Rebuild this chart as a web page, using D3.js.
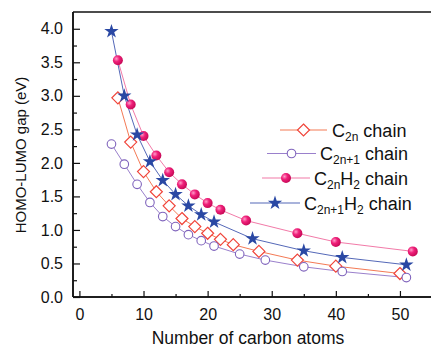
<!DOCTYPE html>
<html><head><meta charset="utf-8">
<script src="https://cdn.jsdelivr.net/npm/d3@7"></script>
<style>body{margin:0;background:#fff}svg{display:block;font-family:"Liberation Sans",Arial,sans-serif}</style>
</head><body>
<svg id="c" width="431" height="349"></svg>
<script>
// ---- data ----
const c2nX = [6, 8, 10, 12, 14, 16, 18, 20, 22, 24, 28, 34, 40, 50];
const c2nY = [2.97, 2.31, 1.87, 1.57, 1.36, 1.17, 1.05, 0.95, 0.86, 0.78, 0.68, 0.55, 0.46, 0.35];
const c2n1X = [5, 7, 9, 11, 13, 15, 17, 19, 21, 25, 29, 35, 41, 51];
const c2n1Y = [2.28, 1.98, 1.68, 1.41, 1.20, 1.05, 0.93, 0.84, 0.76, 0.64, 0.55, 0.45, 0.38, 0.29];
const c2nh2X = [6, 8, 10, 12, 14, 16, 18, 20, 22, 26, 34, 40, 52];
const c2nh2Y = [3.53, 2.87, 2.40, 2.11, 1.86, 1.68, 1.53, 1.40, 1.30, 1.14, 0.95, 0.82, 0.68];
const c2n1h2X = [5, 7, 9, 11, 13, 15, 17, 19, 21, 27, 35, 41, 51];
const c2n1h2Y = [3.96, 3.00, 2.42, 2.02, 1.74, 1.53, 1.36, 1.23, 1.12, 0.87, 0.69, 0.59, 0.48];
const xTicks = [0, 10, 20, 30, 40, 50];
const yTicks = [0, 0.5, 1, 1.5, 2, 2.5, 3, 3.5, 4];
const xTitle = "Number of carbon atoms";
const yTitle = "HOMO-LUMO gap (eV)";

const svg = d3.select("#c");
const x = d3.scaleLinear().domain([-1, 55]).range([73, 432]);
const y = d3.scaleLinear().domain([0, 4.25]).range([297, 12]);

const defs = svg.append("defs");
const grad = defs.append("radialGradient").attr("id", "ball").attr("cx", "35%").attr("cy", "35%").attr("r", "65%");
grad.append("stop").attr("offset", "0%").attr("stop-color", "#ff9cc8");
grad.append("stop").attr("offset", "45%").attr("stop-color", "#f0207a");
grad.append("stop").attr("offset", "100%").attr("stop-color", "#c80a58");

const series = [
  {xs: c2nX, ys: c2nY, line: "#f47a55", mk: "diamond", col: "#f0443a", label: [["C", ""], ["2n", "sub"], [" chain", ""]]},
  {xs: c2n1X, ys: c2n1Y, line: "#9a80cc", mk: "circle", col: "#7f63bc", label: [["C", ""], ["2n+1", "sub"], [" chain", ""]]},
  {xs: c2nh2X, ys: c2nh2Y, line: "#f27aa8", mk: "ball", col: "#e8136c", label: [["C", ""], ["2n", "sub"], ["H", ""], ["2", "sub"], [" chain", ""]]},
  {xs: c2n1h2X, ys: c2n1h2Y, line: "#5468b8", mk: "star", col: "#2a48a4", label: [["C", ""], ["2n+1", "sub"], ["H", ""], ["2", "sub"], [" chain", ""]]}
];

function drawMarker(g, type, cx, cy, col) {
  if (type === "diamond") {
    g.append("path").attr("d", `M${cx},${cy-6}L${cx+6},${cy}L${cx},${cy+6}L${cx-6},${cy}Z`)
      .attr("fill", "#fff").attr("stroke", col).attr("stroke-width", 1.2);
  } else if (type === "circle") {
    g.append("circle").attr("cx", cx).attr("cy", cy).attr("r", 4.3)
      .attr("fill", "#fff").attr("stroke", col).attr("stroke-width", 1.1);
  } else if (type === "ball") {
    g.append("circle").attr("cx", cx).attr("cy", cy).attr("r", 5).attr("fill", "url(#ball)");
  } else {
    g.append("path").attr("d", d3.symbol().type(d3.symbolStar).size(64)())
      .attr("transform", `translate(${cx},${cy})`).attr("fill", col);
  }
}

// frame
svg.append("line").attr("x1", 73).attr("x2", 431).attr("y1", 12).attr("y2", 12).attr("stroke", "#111").attr("stroke-width", 1.5);

// axes (ticks inward)
const xAx = svg.append("g").attr("transform", "translate(0,297)");
xAx.call(d3.axisBottom(x).tickValues(d3.range(5, 55, 10)).tickSize(-3).tickFormat(""));
xAx.call(g => g.append("g").call(d3.axisBottom(x).tickValues(xTicks).tickSize(-6).tickPadding(12).tickFormat(d3.format("d"))));
const yAx = svg.append("g").attr("transform", "translate(73,0)");
yAx.call(d3.axisLeft(y).tickValues(d3.range(0.25, 4.25, 0.5)).tickSize(-4).tickFormat(""));
yAx.call(g => g.append("g").call(d3.axisLeft(y).tickValues(yTicks).tickSize(-7).tickPadding(10).tickFormat(d3.format(".1f"))));
svg.selectAll(".domain").attr("stroke", "#111").attr("stroke-width", 1.5);
svg.selectAll(".tick line").attr("stroke", "#111").attr("stroke-width", 1.2);
svg.selectAll(".tick text").attr("font-size", 16).attr("fill", "#111").attr("font-family", "Liberation Sans, Arial, sans-serif");
xAx.selectAll(".domain").attr("d", `M${x.range()[0]},0H431`);
yAx.selectAll(".domain").attr("d", `M0,12V297`);

// series
const plot = svg.append("g");
series.forEach(s => {
  const pts = s.xs.map((v, i) => [x(v), y(s.ys[i])]);
  plot.append("path").attr("d", d3.line()(pts)).attr("fill", "none").attr("stroke", s.line).attr("stroke-width", 1);
});
series.forEach(s => {
  const g = plot.append("g");
  s.xs.forEach((v, i) => drawMarker(g, s.mk, x(v), y(s.ys[i]), s.col));
});

// legend
const legRows = [
  {y: 130, x1: 280, x2: 327, tx: 332},
  {y: 153.5, x1: 267, x2: 316, tx: 320},
  {y: 178, x1: 262, x2: 310, tx: 314},
  {y: 203, x1: 250, x2: 300, tx: 304}
];
series.forEach((s, i) => {
  const r = legRows[i];
  const g = svg.append("g");
  g.append("line").attr("x1", r.x1).attr("x2", r.x2).attr("y1", r.y).attr("y2", r.y).attr("stroke", s.line).attr("stroke-width", 1.2);
  drawMarker(g, s.mk, (r.x1 + r.x2) / 2, r.y, s.col);
  const t = g.append("text").attr("x", r.tx).attr("y", r.y + 6.5).attr("font-size", 18).attr("fill", "#111");
  s.label.forEach(([str, kind], j) => {
    const ts = t.append("tspan").text(str);
    const prev = j > 0 ? s.label[j-1][1] : "";
    if (kind === "sub") ts.attr("font-size", 12).attr("dy", 4);
    else if (prev === "sub") ts.attr("dy", -4);
  });
});

// titles
svg.append("text").attr("x", 248).attr("y", 344).attr("text-anchor", "middle").attr("font-size", 17.5).attr("fill", "#111").text(xTitle);
svg.append("text").attr("transform", "translate(26,155) rotate(-90)").attr("text-anchor", "middle").attr("font-size", 15).attr("fill", "#111").text(yTitle);
</script>
</body></html>
